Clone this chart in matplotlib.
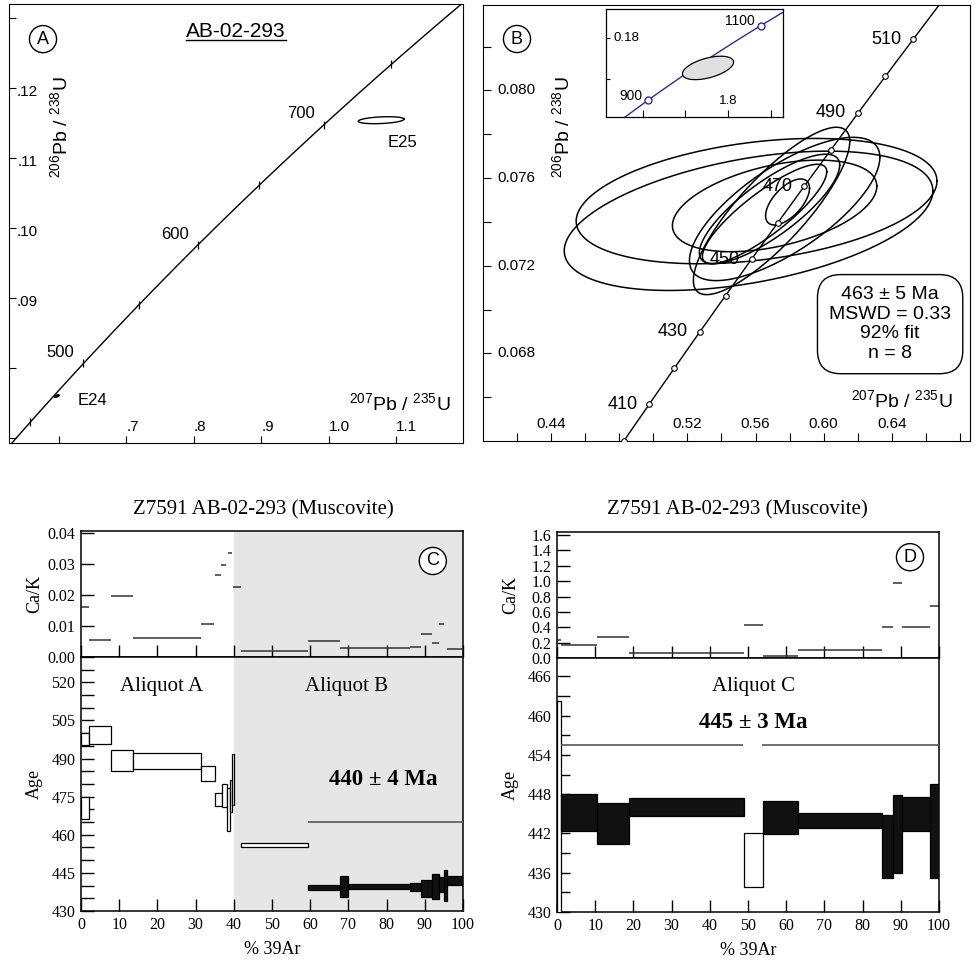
import numpy as np
import matplotlib
matplotlib.use('Agg')
import matplotlib.pyplot as plt

plt.rcParams['font.family'] = 'Liberation Sans'
plt.rcParams['mathtext.fontset'] = 'custom'
plt.rcParams['mathtext.rm'] = 'Liberation Sans'
plt.rcParams['mathtext.it'] = 'Liberation Sans:italic'
plt.rcParams['mathtext.bf'] = 'Liberation Sans:bold'

SERIF = 'Liberation Serif'
L238 = 1.55125e-10
L235 = 9.8485e-10

# ---- panel A: concordia, two discordant grains ----
a_xticks = [0.6, 0.7, 0.8, 0.9, 1.0, 1.1]
a_xlabels = ['', '.7', '.8', '.9', '1.0', '1.1']
a_yticks = [0.07, 0.08, 0.09, 0.10, 0.11, 0.12, 0.13]
a_ylabels = ['', '', '.09', '.10', '.11', '.12', '']
a_ages = [450, 500, 550, 600, 650, 700, 750]
a_age_labels = [500, 600, 700]
a_names = ['E24', 'E25']
a_cx = [0.5966, 1.078]
a_cy = [0.0760, 0.1154]
a_sx = [0.0037, 0.034]
a_sy = [0.00018, 0.0005]
a_rho = [0.6, 0.3]

# ---- panel B: concordant analyses ----
b_xticks = [0.42, 0.44, 0.46, 0.48, 0.50, 0.52, 0.54, 0.56, 0.58, 0.60, 0.62, 0.64, 0.66, 0.68]
b_xlabeled = [0.44, 0.52, 0.56, 0.60, 0.64]
b_yticks = [0.066, 0.068, 0.070, 0.072, 0.074, 0.076, 0.078, 0.080, 0.082]
b_ylabeled = [0.068, 0.072, 0.076, 0.080]
b_ages = [400, 410, 420, 430, 440, 450, 460, 470, 480, 490, 500, 510]
b_age_labels = [410, 430, 450, 470, 490, 510]
b_cx = [0.5606, 0.5559, 0.5712, 0.5694, 0.5771, 0.5682, 0.5653, 0.5788]
b_cy = [0.07495, 0.07405, 0.07473, 0.07450, 0.07459, 0.07459, 0.07436, 0.07491]
b_sx = [0.1059, 0.1082, 0.0600, 0.0459, 0.0559, 0.0412, 0.0365, 0.0129]
b_sy = [0.00286, 0.00318, 0.00209, 0.00382, 0.00327, 0.00250, 0.00227, 0.00105]
b_rho = [0.32, 0.43, 0.43, 0.83, 0.72, 0.80, 0.85, 0.60]
b_result = '463 ± 5 Ma\nMSWD = 0.33\n92% fit\nn = 8'

# inset
in_xticks = [1.4, 1.6, 1.8, 2.0]
in_yticks = [0.16, 0.18]
in_ages = [900, 1100]
in_cx, in_cy, in_sx, in_sy, in_rho = 1.706, 0.1654, 0.12, 0.0057, 0.5

# ---- panel C: Ar-Ar spectrum, aliquots A and B ----
c_cak_x0 = [0, 2.0, 7.8, 13.6, 31.5, 35.0, 36.7, 38.5, 39.9, 41.8, 59.5, 67.8, 86.0, 89.1, 92.0, 93.8, 95.8]
c_cak_x1 = [2.0, 7.8, 13.6, 31.5, 34.9, 36.7, 38.0, 39.5, 41.8, 59.5, 67.8, 86.0, 89.1, 92.0, 93.6, 95.0, 100]
c_cak = [0.0162, 0.0055, 0.0196, 0.0060, 0.0107, 0.0264, 0.0297, 0.0336, 0.0225,
         0.0018, 0.0053, 0.0030, 0.0032, 0.0075, 0.0044, 0.0106, 0.0027]
c_x0 = [0, 0, 2.0, 7.8, 13.6, 31.5, 35.0, 36.8, 38.2, 39.0, 39.6, 41.8,
        59.5, 67.8, 69.8, 86.0, 89.1, 92.0, 93.6, 95.0, 95.8]
c_x1 = [2.0, 2.0, 7.8, 13.6, 31.5, 35.0, 36.8, 38.2, 39.0, 39.6, 40.0, 59.5,
        67.8, 69.8, 86.0, 89.1, 92.0, 93.6, 95.0, 95.8, 100]
c_age = [470.5, 497.7, 499.3, 489.4, 489.0, 484.2, 474.0, 475.4, 470.0, 475.3, 481.7, 455.9,
         439.3, 439.6, 439.8, 439.5, 439.0, 439.8, 440.5, 440.1, 442.0]
c_err = [4.3, 2.3, 3.6, 4.1, 3.2, 3.0, 2.6, 4.6, 8.4, 6.3, 10.0, 0.9,
         1.1, 4.1, 1.0, 1.6, 3.4, 4.9, 3.0, 6.2, 1.8]
c_plateau = [False] * 12 + [True] * 9
c_plateau_age = 465
c_plateau_segs = [(59.5, 100)]

# ---- panel D: Ar-Ar spectrum, aliquot C ----
d_x0 = [0, 1.0, 10.5, 18.8, 49.0, 54.0, 63.0, 85.0, 88.0, 90.3, 97.6]
d_x1 = [1.0, 10.5, 18.8, 49.0, 54.0, 63.0, 85.0, 88.0, 90.3, 97.6, 100]
d_cak = [0.238, 0.173, 0.268, 0.065, 0.424, 0.022, 0.108, 0.41, 0.973, 0.40, 0.683]
d_age = [446.0, 445.2, 443.5, 446.0, 437.9, 444.4, 444.0, 440.0, 441.9, 444.9, 442.4]
d_err = [16.3, 2.9, 3.1, 1.4, 4.1, 2.5, 1.15, 4.8, 6.0, 2.6, 7.2]
d_plateau = [False, True, True, True, False, True, True, True, True, True, True]
d_plateau_age = 455.5
d_plateau_segs = [(1.0, 48.8), (53.7, 100)]

title_cd = 'Z7591 AB-02-293 (Muscovite)'


def concordia(t_ma):
    t = np.asarray(t_ma, dtype=float) * 1e6
    return np.exp(L235 * t) - 1, np.exp(L238 * t) - 1


def ellipse(cx, cy, sx, sy, rho, n=240):
    t = np.linspace(0, 2 * np.pi, n)
    return cx + sx * np.cos(t), cy + sy * (rho * np.cos(t) + np.sqrt(1 - rho ** 2) * np.sin(t))


fig = plt.figure(figsize=(9.76, 9.63), dpi=100)


def px_axes(x0, y0, x1, y1):
    return fig.add_axes([x0 / 976, 1 - y1 / 963, (x1 - x0) / 976, (y1 - y0) / 963])


def circled(ax, x, y, s):
    ax.text(x, y, s, transform=ax.transAxes, ha='center', va='center', fontsize=13,
            fontfamily='Liberation Sans', zorder=10,
            bbox=dict(boxstyle='circle,pad=0.28', fc='white', ec='black', lw=1))


# ================= A =================
axA = px_axes(9, 4, 463, 443)
axA.set_xlim(0.5258, 1.1994)
axA.set_ylim(0.06929, 0.1320)
cx, cy = concordia(np.linspace(400, 850, 300))
axA.plot(cx, cy, color='black', lw=1)
tx, ty = concordia(a_ages)
axA.plot(tx, ty, ls='none', marker='|', ms=6, mew=0.9, color='black')
for age in a_age_labels:
    x, y = concordia(age)
    axA.annotate(str(age), (x, y), xytext=(-6.5, 8), textcoords='offset points',
                 ha='right', va='center', fontsize=12)
for name, x, y, sx, sy, r in zip(a_names, a_cx, a_cy, a_sx, a_sy, a_rho):
    ex, ey = ellipse(x, y, sx, sy, r)
    if name == 'E24':
        axA.fill(ex, ey, color='black', lw=1)
        axA.annotate(name, (x, y), xytext=(15, -3), textcoords='offset points',
                     ha='left', va='center', fontsize=12)
    else:
        axA.plot(ex, ey, color='black', lw=1)
        axA.annotate(name, (x - sx, y), xytext=(21.5, -16), textcoords='offset points',
                     ha='left', va='center', fontsize=12)
axA.set_xticks(a_xticks, labels=[])
axA.set_yticks(a_yticks, labels=[])
axA.tick_params(direction='in', length=5, width=0.8)
for v, s in zip(a_xticks, a_xlabels):
    axA.text(v, 0.036, s, transform=axA.get_xaxis_transform(), ha='left', va='center', fontsize=11)
for v, s in zip(a_yticks, a_ylabels):
    axA.text(0.064, v - 0.0005, s, transform=axA.get_yaxis_transform(), ha='right', va='center', fontsize=11)
axA.text(0.112, 0.72, r'$^{206}$Pb / $^{238}$U', transform=axA.transAxes, rotation=90,
         ha='center', va='center', fontsize=14)
axA.text(0.861, 0.091, r'$^{207}$Pb / $^{235}$U', transform=axA.transAxes,
         ha='center', va='center', fontsize=14)
ttl = axA.text(0.50, 0.938, 'AB-02-293', transform=axA.transAxes, ha='center', va='center', fontsize=15)
circled(axA, 0.0749, 0.920, 'A')

# ================= B =================
axB = px_axes(483, 5, 970, 441)
axB.set_xlim(0.40, 0.6859)
axB.set_ylim(0.0640, 0.0839)
cx, cy = concordia(np.linspace(380, 540, 300))
axB.plot(cx, cy, color='black', lw=1, zorder=3)
tx, ty = concordia(b_ages)
axB.plot(tx, ty, ls='none', marker='o', ms=4, mfc='white', mec='black', mew=0.8, zorder=4)
for age in b_age_labels:
    x, y = concordia(age)
    axB.annotate(str(age), (x, y), xytext=(-8.5, 0), textcoords='offset points',
                 ha='right', va='center', fontsize=13)
for x, y, sx, sy, r in zip(b_cx, b_cy, b_sx, b_sy, b_rho):
    ex, ey = ellipse(x, y, sx, sy, r)
    axB.plot(ex, ey, color='black', lw=1.1, zorder=2)
axB.set_xticks(b_xticks, labels=[])
axB.set_yticks(b_yticks, labels=[])
axB.tick_params(direction='in', length=6, width=0.8)
for v in b_xlabeled:
    axB.text(v, 0.039, f'{v:.2f}', transform=axB.get_xaxis_transform(), ha='center', va='center', fontsize=11)
for v in b_ylabeled:
    axB.text(0.068, v, f'{v:.3f}', transform=axB.get_yaxis_transform(), ha='center', va='center', fontsize=11)
axB.text(0.162, 0.72, r'$^{206}$Pb / $^{238}$U', transform=axB.transAxes, rotation=90,
         ha='center', va='center', fontsize=14)
axB.text(0.860, 0.094, r'$^{207}$Pb / $^{235}$U', transform=axB.transAxes,
         ha='center', va='center', fontsize=14)
axB.text(0.836, 0.268, b_result, transform=axB.transAxes, ha='center', va='center',
         fontsize=14, linespacing=1.2,
         bbox=dict(boxstyle='round,pad=0.6,rounding_size=1.2', fc='white', ec='black', lw=1))
circled(axB, 0.0698, 0.922, 'B')

# inset
axI = px_axes(606, 9, 783, 117)
axI.set_xlim(1.227, 2.058)
axI.set_ylim(0.1415, 0.1941)
cx, cy = concordia(np.linspace(800, 1250, 200))
axI.plot(cx, cy, color='#2b2ba0', lw=1)
ix, iy = concordia(in_ages)
axI.plot(ix, iy, ls='none', marker='o', ms=5, mfc='white', mec='#2b2ba0', mew=1)
for age, x, y in zip(in_ages, ix, iy):
    axI.annotate(str(age), (x, y), xytext=(-4.5, 3), textcoords='offset points',
                 ha='right', va='center', fontsize=10)
ex, ey = ellipse(in_cx, in_cy, in_sx, in_sy, in_rho)
axI.fill(ex, ey, fc='#e0e0e0', ec='black', lw=0.9, zorder=3)
axI.set_xticks(in_xticks, labels=[])
axI.set_yticks(in_yticks, labels=[])
axI.tick_params(axis='x', direction='in', length=5, width=0.8)
axI.tick_params(axis='y', direction='in', length=3, width=0.8)
axI.text(0.045, 0.18, '0.18', transform=axI.get_yaxis_transform(), ha='left', va='center', fontsize=9.5)
axI.text(1.8, 0.15, '1.8', transform=axI.get_xaxis_transform(), ha='center', va='center', fontsize=9.5)
for sp in axI.spines.values():
    sp.set_linewidth(0.9)


# ================= C and D =================
def spectrum(top_px, bot_px, cak_x0, cak_x1, cak, x0, x1, age, err, plateau,
             p_age, p_segs, cak_lim, cak_ticks, cak_fmt, age_lim, age_major, age_minor):
    axT = px_axes(*top_px)
    axS = px_axes(*bot_px)
    for ax in (axT, axS):
        ax.set_xlim(0, 100)
        for sp in ax.spines.values():
            sp.set_linewidth(1.1)
    axT.hlines(cak, cak_x0, cak_x1, color='#333333', lw=1.1)
    axT.set_ylim(*cak_lim)
    axT.set_yticks(cak_ticks, labels=[cak_fmt % v for v in cak_ticks],
                   fontfamily=SERIF, fontsize=11.5)
    axT.set_xticks(range(0, 101, 10), labels=[])
    axT.tick_params(direction='in', length=9, width=1, pad=4)
    axT.set_ylabel('Ca/K', fontfamily=SERIF, fontsize=13)
    axT.yaxis.set_label_coords(-0.10, 0.5)

    w = [b - a for a, b in zip(x0, x1)]
    lo = [a - e for a, e in zip(age, err)]
    h = [2 * e for e in err]
    fc = ['#111111' if p else 'white' for p in plateau]
    axS.bar(x0, h, width=w, bottom=lo, align='edge', color=fc, edgecolor='black', lw=0.9, zorder=3)
    for s0, s1 in p_segs:
        axS.hlines(p_age, s0, s1, color='#555555', lw=1.2, zorder=3)
    axS.set_ylim(*age_lim)
    axS.set_yticks(age_major, labels=[str(v) for v in age_major], fontfamily=SERIF, fontsize=11.5)
    axS.set_yticks(age_minor, minor=True)
    axS.set_xticks(range(0, 101, 10), labels=[str(v) for v in range(0, 101, 10)],
                   fontfamily=SERIF, fontsize=11.5)
    axS.tick_params(which='both', direction='in', length=9, width=1, pad=4)
    axS.set_ylabel('Age', fontfamily=SERIF, fontsize=13)
    axS.yaxis.set_label_coords(-0.10, 0.5)
    axS.set_xlabel('% 39Ar', fontfamily=SERIF, fontsize=13, labelpad=6)
    return axT, axS


cT, cS = spectrum((81, 531, 463, 657), (81, 657, 463, 911),
                  c_cak_x0, c_cak_x1, c_cak, c_x0, c_x1, c_age, c_err, c_plateau,
                  c_plateau_age, c_plateau_segs,
                  (0, 0.0406), [0.0, 0.01, 0.02, 0.03, 0.04], '%.2f',
                  (430, 530), list(range(430, 521, 15)), list(range(430, 531, 5)))
for ax in (cT, cS):
    ax.axvspan(40, 100, color='#e6e6e6', zorder=0, lw=0)
cS.text(21, 518.4, 'Aliquot A', ha='center', va='center', fontfamily=SERIF, fontsize=15)
cS.text(69.5, 518.4, 'Aliquot B', ha='center', va='center', fontfamily=SERIF, fontsize=15)
cS.text(79, 481.8, '440 ± 4 Ma', ha='center', va='center', fontfamily=SERIF, fontsize=16.5, fontweight='bold')
circled(cT, 0.921, 0.762, 'C')
fig.text(263 / 976, 1 - 510 / 963, title_cd, ha='center', va='center', fontfamily=SERIF, fontsize=15)

dT, dS = spectrum((557, 532, 939, 658), (557, 658, 939, 912),
                  d_x0, d_x1, d_cak, d_x0, d_x1, d_age, d_err, d_plateau,
                  d_plateau_age, d_plateau_segs,
                  (0, 1.64), [0.0, 0.2, 0.4, 0.6, 0.8, 1.0, 1.2, 1.4, 1.6], '%.1f',
                  (430, 468.8), list(range(430, 467, 6)), list(range(430, 469, 3)))
dS.text(51.4, 464.5, 'Aliquot C', ha='center', va='center', fontfamily=SERIF, fontsize=15)
dS.text(51.4, 459.0, '445 ± 3 Ma', ha='center', va='center', fontfamily=SERIF, fontsize=16.5, fontweight='bold')
circled(dT, 0.924, 0.80, 'D')
fig.text(737 / 976, 1 - 510 / 963, title_cd, ha='center', va='center', fontfamily=SERIF, fontsize=15)

# underline the sample name in A
fig.canvas.draw()
bb = ttl.get_window_extent().transformed(axA.transAxes.inverted())
axA.plot([bb.x0, bb.x1], [bb.y0 + 0.002, bb.y0 + 0.002], transform=axA.transAxes, color='black', lw=1)

fig.savefig('out.png', dpi=100)
